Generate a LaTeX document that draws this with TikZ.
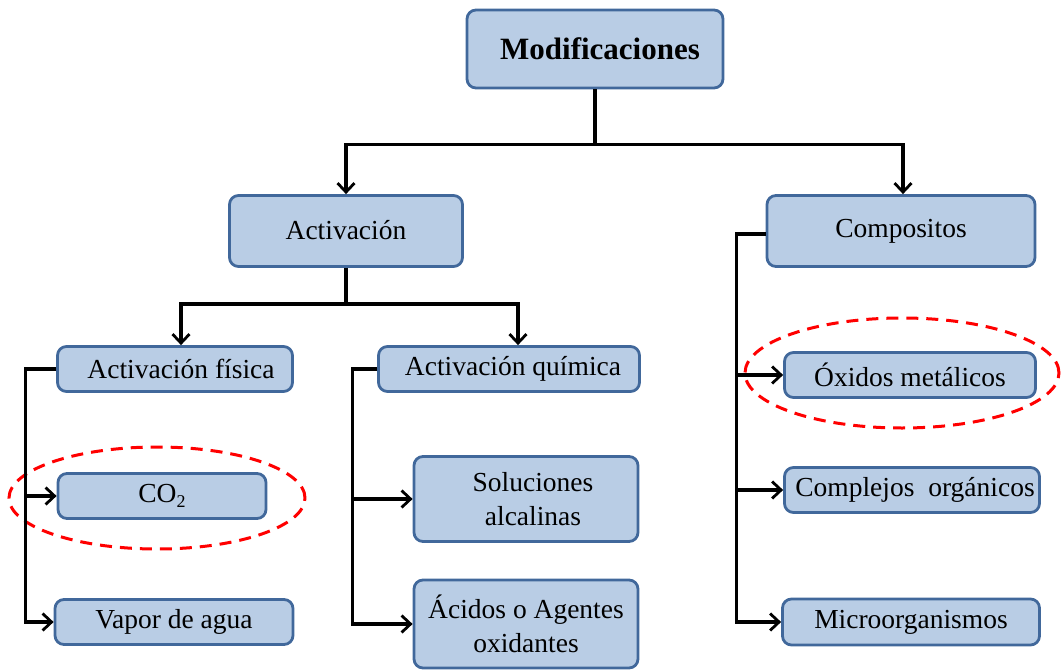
\documentclass[tikz,border=0pt]{standalone}
\usepackage{fontspec}
\setmainfont{Liberation Serif}
\usetikzlibrary{arrows.meta,shapes.geometric}
\definecolor{boxfill}{RGB}{185,205,229}
\definecolor{boxline}{RGB}{65,104,155}
\definecolor{ovalred}{RGB}{255,0,0}
\tikzset{
  box/.style={draw=boxline, fill=boxfill, line width=2.8pt, rounded corners=9pt,
    inner sep=0pt, align=center, font=\fontsize{27.5}{34}\selectfont},
  conn/.style={line width=3.2pt, black},
  arr/.style={conn, -{Straight Barb[length=9pt,width=17pt,line width=2.8pt]}},
  oval/.style={ellipse, draw=ovalred, line width=3pt, dash pattern=on 12pt off 8pt, inner sep=0pt}
}
\begin{document}
\begin{tikzpicture}[x=1pt,y=-1pt]
\useasboundingbox (0,0) rectangle (1062,671);
\clip (0,0) rectangle (1062,671);
% boxes
\node[box, minimum width=256pt, minimum height=78pt, font=\fontsize{31}{35}\selectfont\bfseries] (mod) at (595,49) {\hspace*{10pt}Modificaciones};
\node[box, minimum width=233pt, minimum height=71pt] (act) at (346,231) {\raisebox{3pt}{Activación}};
\node[box, minimum width=268pt, minimum height=71pt] (comp) at (901,231) {\raisebox{3pt}{Compositos}};
\node[box, minimum width=235pt, minimum height=45pt] (fis) at (175,369) {\hspace*{12pt}Activación física};
\node[box, minimum width=261pt, minimum height=45pt] (qui) at (509,369) {\hspace*{8pt}Activación química};
\node[box, minimum width=208pt, minimum height=45pt] (co2) at (162,496) {CO\raisebox{-5pt}{\fontsize{18}{20}\selectfont 2}};
\node[box, minimum width=238pt, minimum height=45pt] (vap) at (174,622) {Vapor de agua};
\node[box, minimum width=224pt, minimum height=85pt] (sol) at (526,499) {\hspace*{14pt}Soluciones\\\hspace*{14pt}alcalinas};
\node[box, minimum width=224pt, minimum height=88pt] (aci) at (526,624) {Ácidos o Agentes\\oxidantes};
\node[box, minimum width=251pt, minimum height=45pt] (oxi) at (910,375) {Óxidos metálicos};
\node[box, minimum width=255pt, minimum height=45pt] (cpl) at (912,490) {\hspace*{6pt}Complejos~ orgánicos};
\node[box, minimum width=257pt, minimum height=46pt] (mic) at (911,622) {Microorganismos};
% ovals
\node[oval, minimum width=296pt, minimum height=102pt] (ov1) at (157,498) {};
\node[oval, minimum width=314pt, minimum height=110pt] (ov2) at (902,373) {};
% connectors
\draw[arr] (mod.south) -- ++(0,55) -| (act.north);
\draw[arr] (mod.south) -- ++(0,55) -| ([xshift=2pt]comp.north);
\draw[arr] (act.south) -- ++(0,36) -| ([xshift=6pt]fis.north);
\draw[arr] (act.south) -- ++(0,36) -| ([xshift=9pt]qui.north);
\draw[arr] (fis.west) -- ++(-31,0) |- (co2.west);
\draw[arr] (fis.west) -- ++(-31,0) |- (vap.west);
\draw[arr] (qui.west) -- ++(-25,0) |- (sol.west);
\draw[arr] (qui.west) -- ++(-25,0) |- (aci.west);
\draw[arr] ([yshift=-3pt]comp.west) -- ++(-29,0) |- (oxi.west);
\draw[arr] ([yshift=-3pt]comp.west) -- ++(-29,0) |- (cpl.west);
\draw[arr] ([yshift=-3pt]comp.west) -- ++(-29,0) |- (mic.west);
\end{tikzpicture}
\end{document}
